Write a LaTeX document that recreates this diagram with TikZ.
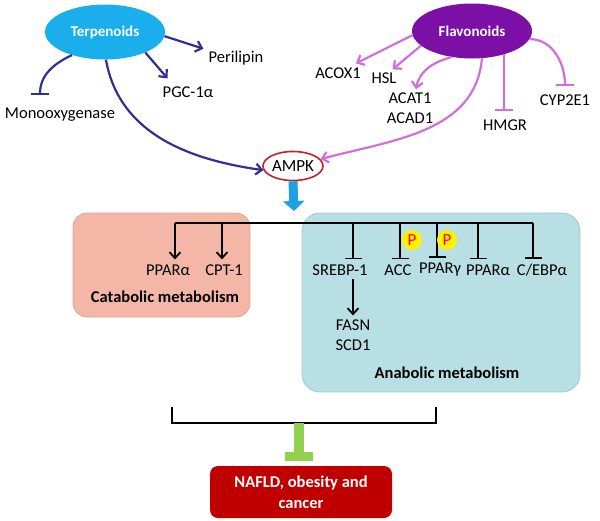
\documentclass[tikz,border=0pt]{standalone}
\usepackage{fontspec}
\setmainfont{Carlito}
\usetikzlibrary{arrows.meta,calc,shapes.geometric}
\definecolor{navy}{HTML}{2E3192}
\definecolor{viol}{HTML}{CF6FDB}
\definecolor{terpc}{HTML}{1AAFEC}
\definecolor{flavc}{HTML}{7B0FA6}
\definecolor{ampkred}{HTML}{C8202A}
\definecolor{bluea}{HTML}{1DA1E2}
\definecolor{catfill}{HTML}{F4B7A7}
\definecolor{catdraw}{HTML}{D9A597}
\definecolor{anafill}{HTML}{B8DFE3}
\definecolor{anadraw}{HTML}{9DC9CE}
\definecolor{gT}{HTML}{92D050}
\definecolor{nafc}{HTML}{C00000}
\begin{document}
\begin{tikzpicture}[x=1pt,y=-1pt,
  lbl/.style={font=\fontsize{16.5}{20}\selectfont, inner sep=1pt},
  blbl/.style={font=\bfseries\fontsize{16.5}{20}\selectfont, inner sep=1pt},
  blob/.style={ellipse, minimum width=120pt, minimum height=55pt, text=white, font=\bfseries\fontsize{15}{18}\selectfont},
  arr/.style={line width=2.2pt, -{Straight Barb[length=6pt,width=11pt]}},
  inh/.style={line width=2.2pt, -{Bar[width=18pt]}},
  pcirc/.style={circle, fill=yellow, minimum size=20pt, inner sep=0pt, text=red, font=\fontsize{17}{18}\selectfont},
  box/.style={rounded corners=14pt, line width=0.8pt}
]
\useasboundingbox (0,0) rectangle (600,520);

% boxes
\draw[box, fill=catfill, draw=catdraw] (73,213) rectangle (250,317);
\draw[box, fill=anafill, draw=anadraw, rounded corners=18pt] (302,213) rectangle (580,392);

% top nodes
\node[blob, fill=terpc] (terp) at (105,32) {Terpenoids};
\node[blob, fill=flavc] (flav) at (472,31) {Flavonoids};
\node[lbl] (peri) at (236,58) {Perilipin};
\node[lbl] (pgc) at (188,92) {PGC-1α};
\node[lbl] (mono) at (60,115) {Monooxygenase};
\node[lbl] (acox) at (338,73) {ACOX1};
\node[lbl] (hsl) at (384,78) {HSL};
\node[lbl, align=center] (acat) at (410,108) {ACAT1\\ACAD1};
\node[lbl] (hmgr) at (505,125) {HMGR};
\node[lbl] (cyp) at (565,100) {CYP2E1};
\node[ellipse, draw=ampkred, line width=1.6pt, fill=white, minimum width=60pt, minimum height=29pt, inner sep=0pt, font=\fontsize{17}{20}\selectfont] (ampk) at (293,166) {AMPK};

% terpenoid connectors
\draw[arr, navy] (terp.-4) -- ($(peri.north west)+(-4,-1)$);
\draw[arr, navy] (terp.-27) -- ($(pgc.north west)+(6,-7)$);
\draw[inh, navy] (terp.-145) to[out=205,in=90] ($(mono.north)+(-20,-12)$);
\draw[arr, navy] (terp.-88) to[out=-80,in=172] (ampk.188);

% flavonoid connectors
\draw[arr, viol] (flav.184) -- ($(acox.north east)+(-6,-3)$);
\draw[arr, viol] (flav.196) -- ($(hsl.north east)+(-5,-2)$);
\draw[arr, viol] (flav.232) to[out=195,in=80] ($(acat.north)+(6,-2)$);
\draw[inh, viol] (flav.-36) -- ($(flav.-36 |- hmgr.north)+(0,-7)$);
\draw[inh, viol] (flav.-8) to[out=0,in=90] ($(cyp.north)+(0,-7)$);
\draw[arr, viol] (flav.-70) to[out=-95,in=15] (ampk.14);

% blue arrow
\coordinate (bluetip) at (294,211);
\draw[bluea, line width=9pt, -{Triangle[length=10pt,width=21pt]}] (ampk.south) -- (bluetip);

% horizontal line and targets
\coordinate (d1) at (175,223);
\coordinate (d2) at (222,223);
\coordinate (d3) at (353,223);
\coordinate (d4) at (400,223);
\coordinate (d5) at (437,223);
\coordinate (d6) at (478,223);
\coordinate (d7) at (533,223);
\draw[line width=2pt] (d1) -- (d7);

\node[lbl] (ppa1) at (168,270) {PPARα};
\node[lbl] (cpt) at (224,270) {CPT-1};
\node[blbl] (catl) at (165,297) {Catabolic metabolism};
\node[lbl] (srebp) at (340,270) {SREBP-1};
\node[lbl] (acc) at (398,270) {ACC};
\node[lbl] (ppag) at (440,270) {PPARγ};
\node[lbl] (ppa2) at (488,270) {PPARα};
\node[lbl] (cebp) at (542,270) {C/EBPα};
\node[lbl, align=center] (fasn) at (353,335) {FASN\\SCD1};
\node[blbl] (anal) at (447,373) {Anabolic metabolism};

\tikzset{barr/.style={line width=1.8pt, -{Straight Barb[length=6pt,width=11pt]}},
         binh/.style={line width=1.8pt, -{Bar[width=17pt]}}}
\draw[barr] (d1) -- ($(d1 |- ppa1.north)+(0,-4)$);
\draw[barr] (d2) -- ($(d2 |- cpt.north)+(0,-4)$);
\draw[binh] (d3) -- ($(d3 |- srebp.north)+(0,-4)$);
\draw[binh] (d4) -- ($(d4 |- acc.north)+(0,-4)$);
\draw[binh] (d5) -- ($(d5 |- ppag.north)+(0,-4)$);
\draw[binh] (d6) -- ($(d6 |- ppa2.north)+(0,-4)$);
\draw[binh] (d7) -- ($(d7 |- cebp.north)+(0,-4)$);
\draw[barr] ($(d3 |- srebp.south)+(0,2)$) -- ($(d3 |- fasn.north)+(0,-3)$);

\node[pcirc] (p1) at (412,240) {P};
\node[pcirc] (p2) at (447,240) {P};

% bracket
\coordinate (bl) at (172,407);
\coordinate (br) at (436,407);
\coordinate (brk) at (299,423);
\draw[line width=1.6pt] (bl) |- (brk) -| (br);

% NAFLD box
\node[rounded corners=8pt, fill=nafc, text=white, minimum width=182pt, minimum height=52pt, align=center, font=\bfseries\fontsize{16.5}{21}\selectfont] (naf) at (301,492) {NAFLD, obesity and\\cancer};

% green inhibitor
\coordinate (gbar) at (299,456);
\draw[gT, line width=10pt] (brk) -- (gbar);
\draw[gT, line width=9pt] ($(gbar)+(-14,0)$) -- ($(gbar)+(14,0)$);
\end{tikzpicture}
\end{document}
